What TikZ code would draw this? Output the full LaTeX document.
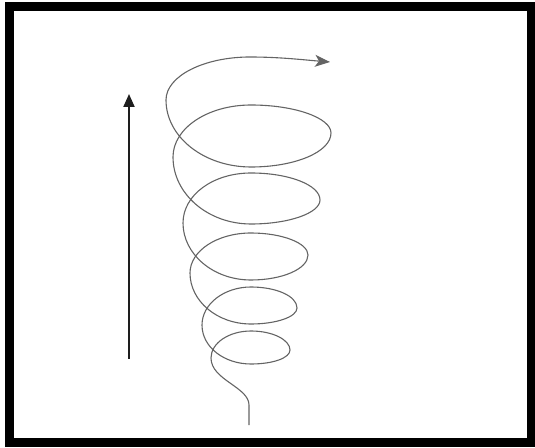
\documentclass[tikz,border=0pt]{standalone}
\usetikzlibrary{arrows.meta}
\definecolor{spiralgray}{RGB}{100,100,100}
\definecolor{arrowdark}{RGB}{30,30,30}

\begin{document}
\begin{tikzpicture}[
    x=1pt, y=1pt,
    frame/.style={draw=black, line width=9pt},
    riseline/.style={-{Triangle[length=13pt, width=11pt]}, line width=2pt, draw=arrowdark},
    spiral/.style={-{Stealth[length=15pt, width=12pt, inset=4pt]}, line width=1.1pt, draw=spiralgray}
]
\useasboundingbox (0,0) rectangle (535,447);

% Frame
\draw[frame] (9.5,4.5) rectangle (531,440);

% Upward arrow
\coordinate (risebottom) at (129,88);
\coordinate (risetop) at (129,353);
\draw[riseline] (risebottom) -- (risetop);

% Spiral, bottom to top
\coordinate (tail) at (249,22);
\coordinate (head) at (330,385);
\draw[spiral] (tail) -- (249,42) .. controls +(0,18) and +(0,-22) .. (211,89)
  % turn 1
  .. controls +(0,15) and +(-22,0) .. (251,116) .. controls +(22,0) and +(0,10) .. (290,97)
  .. controls +(0,-8) and +(22,0) .. (251,83) .. controls +(-27,0) and +(0,-22) .. (202,122)
  % turn 2
  .. controls +(0,21) and +(-27,0) .. (251,160) .. controls +(25,0) and +(0,12) .. (297,139)
  .. controls +(0,-9) and +(25,0) .. (251,123) .. controls +(-34,0) and +(0,-28) .. (190,174)
  % turn 3
  .. controls +(0,22) and +(-34,0) .. (251,214) .. controls +(31,0) and +(0,12) .. (308,192)
  .. controls +(0,-14) and +(31,0) .. (251,167) .. controls +(-38,0) and +(0,-31) .. (183,224)
  % turn 4
  .. controls +(0,28) and +(-38,0) .. (251,274) .. controls +(38,0) and +(0,15) .. (320,247)
  .. controls +(0,-13) and +(38,0) .. (251,223) .. controls +(-43,0) and +(0,-37) .. (173,290)
  % turn 5
  .. controls +(0,29) and +(-43,0) .. (251,342) .. controls +(44,0) and +(0,15) .. (331,314)
  .. controls +(0,-19) and +(44,0) .. (251,280) .. controls +(-47,0) and +(0,-37) .. (166,347)
  % last half turn
  .. controls +(0,24) and +(-46,0) .. (250,390) .. controls +(30,0) and +(-25,2) .. (head);
\end{tikzpicture}
\end{document}
